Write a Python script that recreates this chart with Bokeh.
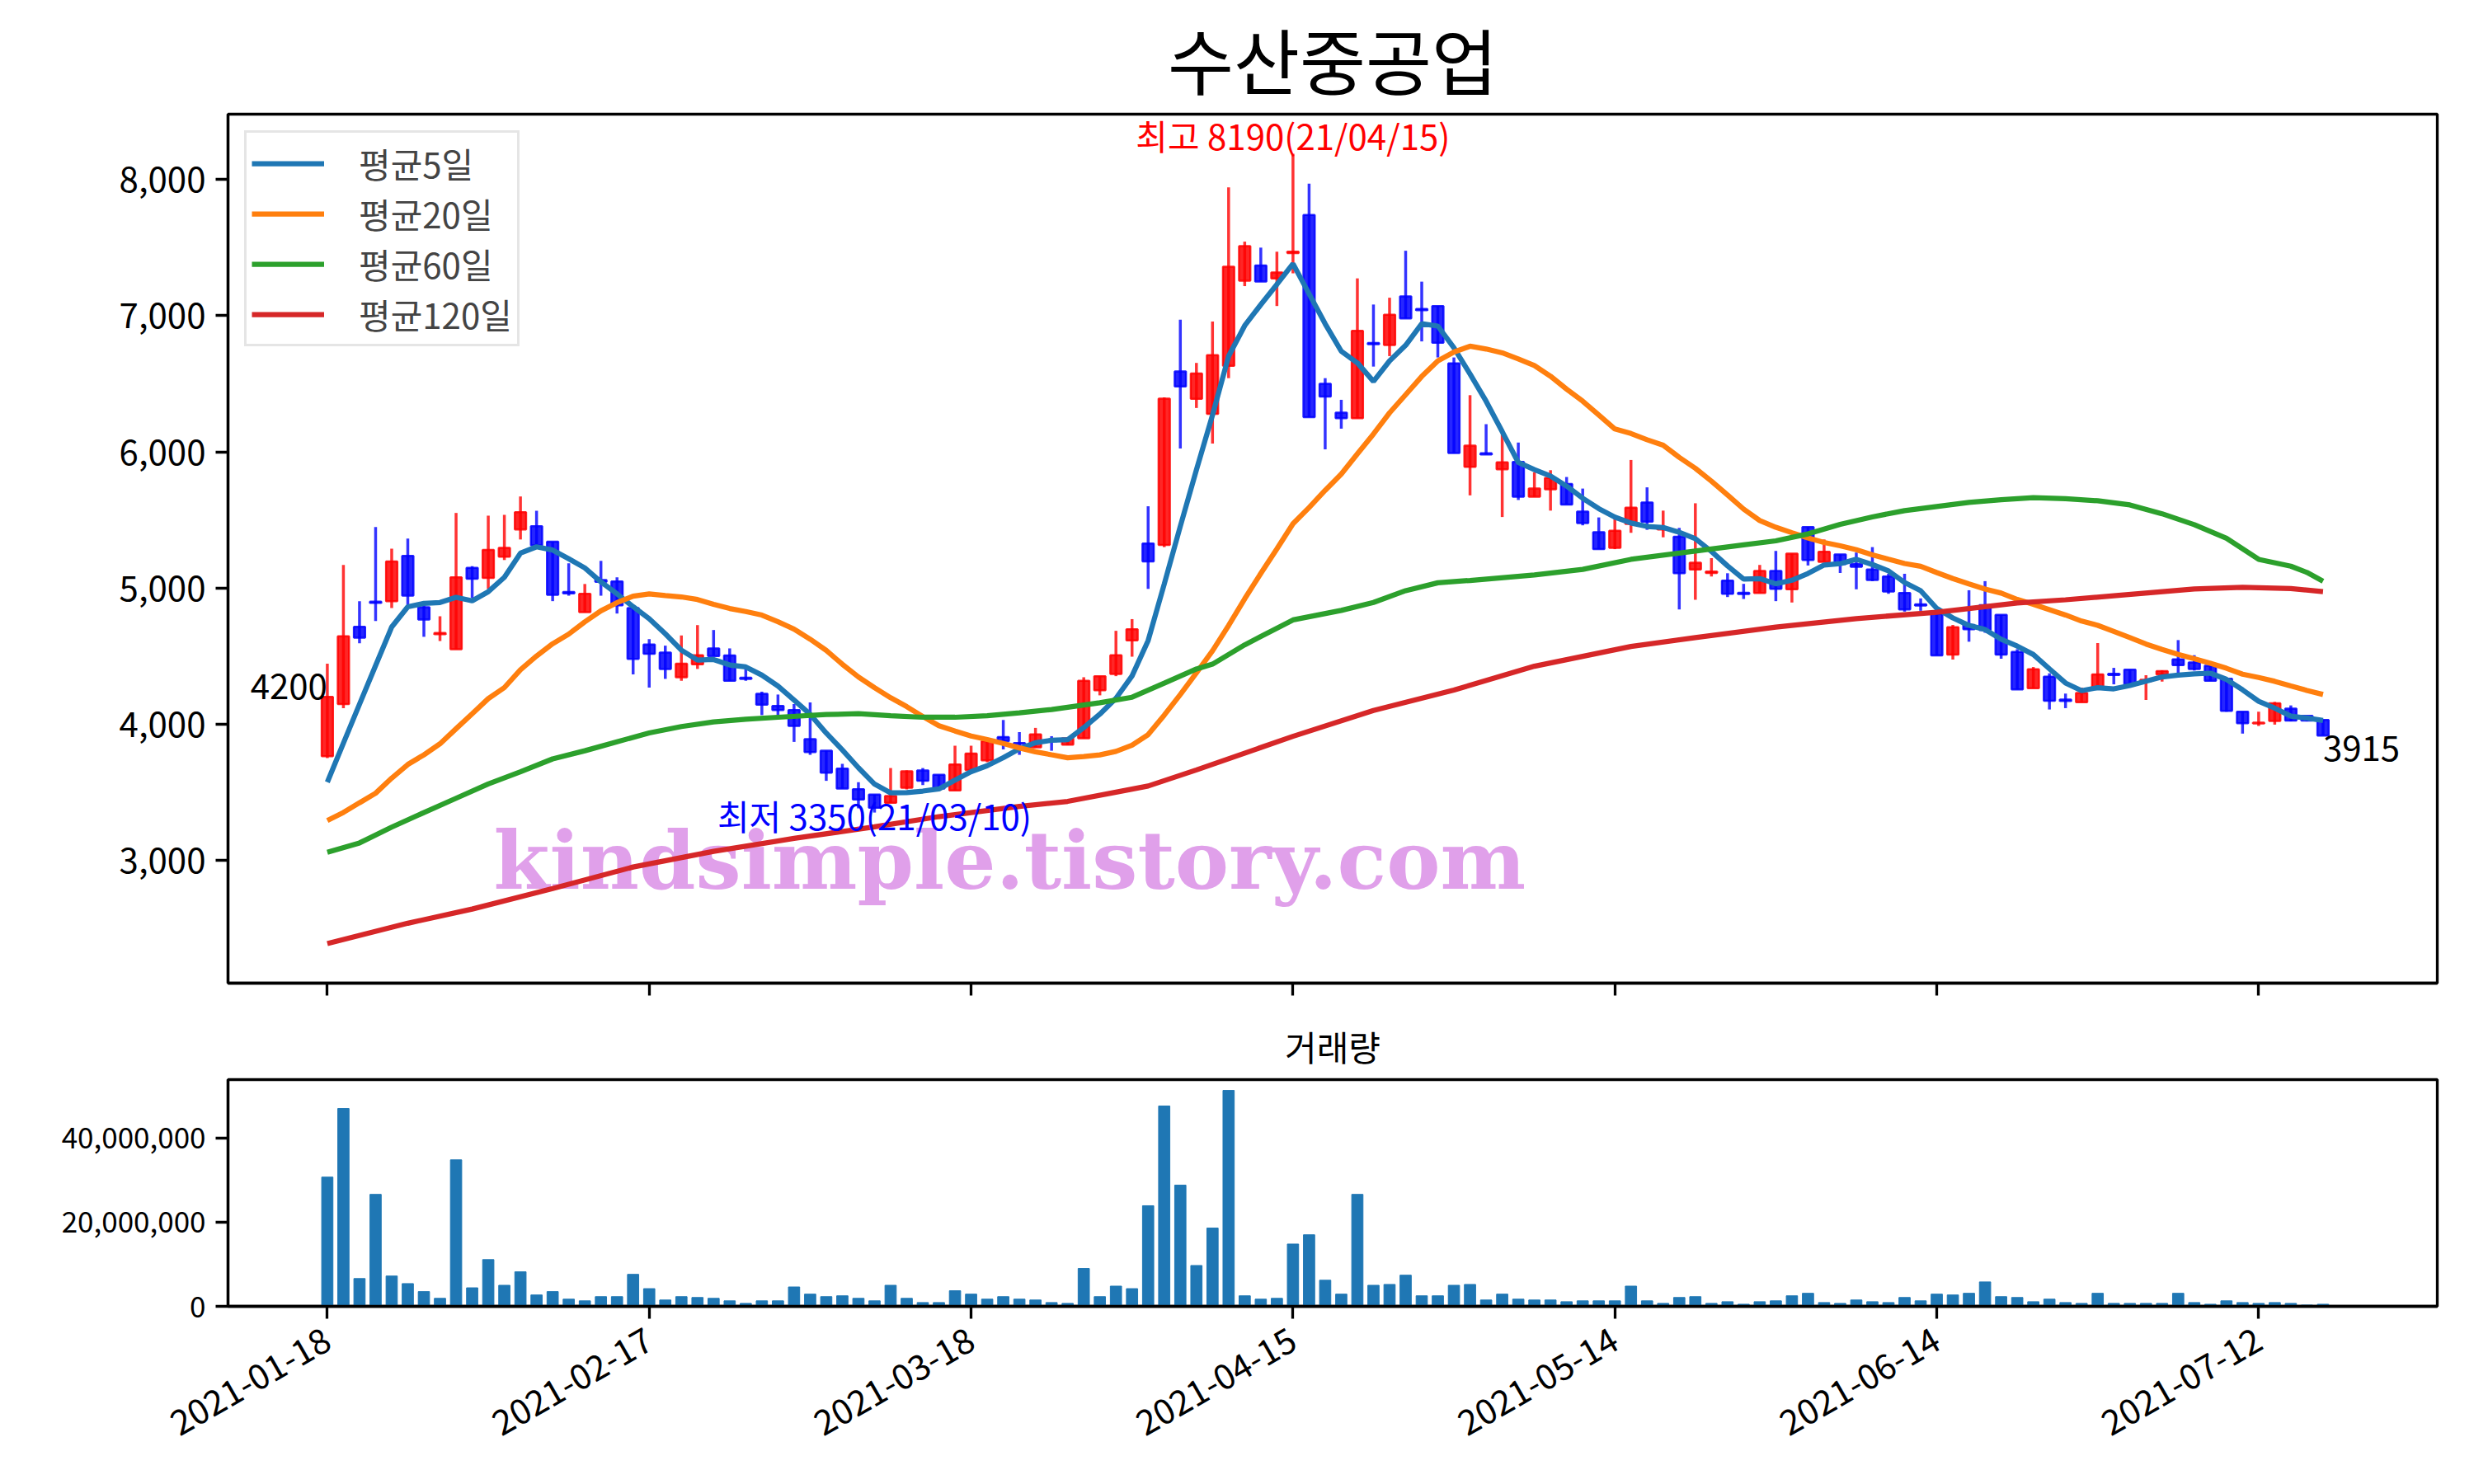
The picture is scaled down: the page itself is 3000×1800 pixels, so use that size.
import numpy as np
import pandas as pd
from math import pi
from bokeh.plotting import figure
from bokeh.models import (ColumnDataSource, Range1d, FixedTicker, NumeralTickFormatter, Label)
from bokeh.layouts import column
from bokeh.embed import file_html
from bokeh.resources import INLINE

chart_title = "수산중공업"
volume_title = "거래량"
tick_idx = [0, 20, 40, 60, 80, 100, 120]
tick_dates = ["2021-01-18", "2021-02-17", "2021-03-18", "2021-04-15",
              "2021-05-14", "2021-06-14", "2021-07-12"]

open_ = [3764, 4147, 4715, 4900, 4903, 5235, 4858, 4660, 4550, 5148,
         5074, 5229, 5430, 5453, 5340, 4970, 4822, 5058, 5048, 4852,
         4584, 4526, 4344, 4439, 4556, 4504, 4340, 4222, 4133, 4103,
         3889, 3804, 3673, 3522, 3482, 3421, 3532, 3659, 3627, 3512,
         3663, 3734, 3905, 3860, 3829, 3885, 3849, 3895, 4248, 4368,
         4614, 5326, 5316, 6590, 6389, 6278, 6632, 7257, 7369, 7274,
         7460, 7740, 6500, 6288, 6247, 6800, 6784, 7142, 7050, 7071,
         6649, 5889, 5990, 5872, 5926, 5670, 5724, 5764, 5561, 5409,
         5295, 5470, 5628, 5430, 5377, 5135, 5110, 5054, 4965, 4963,
         5125, 4990, 5447, 5191, 5246, 5175, 5135, 5084, 4963, 4880,
         4812, 4510, 4728, 4873, 4802, 4530, 4264, 4349, 4180, 4161,
         4258, 4370, 4399, 4315, 4365, 4476, 4453, 4429, 4333, 4091,
         4005, 4022, 4113, 4061, 4030]
high = [4443, 5169, 4903, 5447, 5289, 5362, 4872, 4792, 5551, 5160,
        5531, 5537, 5672, 5567, 5340, 5181, 5029, 5199, 5078, 4852,
        4624, 4576, 4651, 4727, 4691, 4556, 4419, 4238, 4217, 4147,
        4159, 3804, 3708, 3573, 3482, 3677, 3660, 3677, 3627, 3841,
        3841, 3875, 4030, 3941, 3972, 3911, 3900, 4344, 4352, 4685,
        4771, 5600, 6400, 6970, 6653, 6957, 7943, 7544, 7500, 7470,
        8190, 7970, 6541, 6382, 7274, 7082, 7132, 7477, 7250, 7071,
        6693, 6416, 6203, 6129, 6068, 5849, 5865, 5815, 5730, 5518,
        5511, 5940, 5739, 5568, 5441, 5622, 5219, 5108, 5030, 5169,
        5272, 5252, 5447, 5356, 5246, 5260, 5300, 5104, 5104, 4923,
        4832, 4728, 4983, 5050, 4802, 4550, 4419, 4373, 4224, 4268,
        4595, 4413, 4399, 4359, 4395, 4617, 4506, 4429, 4333, 4091,
        4091, 4163, 4137, 4061, 4030]
low = [3750, 4117, 4594, 4757, 4852, 4872, 4641, 4610, 4550, 4927,
       4993, 5205, 5356, 5312, 4903, 4943, 4822, 4943, 4812, 4365,
       4268, 4332, 4318, 4405, 4500, 4318, 4318, 4066, 4066, 3869,
       3774, 3583, 3526, 3381, 3350, 3421, 3520, 3552, 3512, 3512,
       3663, 3720, 3814, 3774, 3829, 3804, 3845, 3895, 4211, 4352,
       4495, 4993, 5300, 6025, 6322, 6061, 6541, 7217, 7251, 7071,
       7311, 6254, 6018, 6170, 6247, 6626, 6703, 6980, 6811, 6693,
       5991, 5680, 5980, 5521, 5646, 5670, 5568, 5612, 5460, 5285,
       5285, 5405, 5427, 5372, 4842, 4913, 5084, 4933, 4919, 4963,
       4903, 4893, 5165, 5191, 5110, 4990, 5050, 4957, 4826, 4832,
       4504, 4474, 4605, 4671, 4480, 4254, 4264, 4107, 4117, 4161,
       4258, 4292, 4294, 4177, 4312, 4373, 4393, 4318, 4091, 3930,
       3986, 3996, 4020, 4020, 3915]
close = [4200, 4645, 4635, 4890, 5195, 4943, 4768, 4670, 5078, 5068,
         5279, 5295, 5557, 5312, 4949, 4960, 4957, 5044, 4872, 4479,
         4516, 4405, 4443, 4506, 4500, 4318, 4332, 4143, 4103, 3986,
         3794, 3643, 3526, 3446, 3385, 3472, 3653, 3583, 3526, 3704,
         3784, 3875, 3875, 3855, 3925, 3875, 3895, 4318, 4352, 4506,
         4697, 5195, 6390, 6480, 6575, 6710, 7359, 7511, 7251, 7318,
         7470, 6254, 6406, 6247, 6889, 6790, 7007, 6980, 7040, 6801,
         5991, 6045, 5980, 5923, 5670, 5730, 5808, 5612, 5477, 5285,
         5420, 5590, 5487, 5440, 5108, 5185, 5120, 4957, 4955, 5125,
         4994, 5252, 5205, 5266, 5175, 5155, 5058, 4973, 4842, 4870,
         4504, 4711, 4697, 4691, 4510, 4254, 4403, 4171, 4170, 4228,
         4365, 4360, 4294, 4325, 4389, 4433, 4405, 4318, 4097, 4006,
         4010, 4153, 4026, 4026, 3915]
volume_m = [30.7, 47.0, 6.6, 26.6, 7.2, 5.4, 3.5, 1.9, 34.8, 4.4,
            11.1, 5.0, 8.2, 2.7, 3.5, 1.7, 1.3, 2.3, 2.3, 7.6,
            4.2, 1.5, 2.3, 2.1, 1.9, 1.3, 0.7, 1.3, 1.3, 4.6,
            2.9, 2.3, 2.5, 1.9, 1.3, 5.0, 1.9, 0.9, 0.9, 3.7,
            2.9, 1.7, 2.3, 1.7, 1.5, 0.9, 0.7, 9.0, 2.3, 4.8,
            4.2, 23.9, 47.6, 28.8, 9.7, 18.6, 51.3, 2.5, 1.7, 1.9,
            14.8, 17.0, 6.2, 2.9, 26.6, 5.0, 5.2, 7.4, 2.5, 2.5,
            5.0, 5.2, 1.5, 2.9, 1.7, 1.5, 1.5, 1.1, 1.3, 1.3,
            1.3, 4.8, 1.3, 0.7, 2.1, 2.3, 0.7, 1.1, 0.5, 1.1,
            1.3, 2.5, 3.1, 0.9, 0.7, 1.5, 1.1, 0.9, 2.1, 1.3,
            2.9, 2.7, 3.1, 5.8, 2.3, 2.1, 1.1, 1.7, 0.9, 0.7,
            3.1, 0.7, 0.7, 0.7, 0.7, 3.1, 0.9, 0.5, 1.3, 0.9,
            0.7, 0.9, 0.7, 0.3, 0.5]

ma5_head = [3573, 3860, 4146, 4430]
ma20_head = [3291, 3351, 3422, 3492, 3603, 3703, 3774, 3855, 3966, 4076,
             4187, 4268, 4399, 4500, 4590, 4661, 4751, 4832, 4892]
ma60_x = [0, 2, 4, 6, 8, 10, 12, 14, 16, 18, 20, 22, 24, 26, 28, 31, 33, 35, 37, 39,
          41, 43, 45, 48, 50, 52, 54, 55, 57, 60, 63, 65, 67, 69, 71, 75, 78, 81, 84, 86,
          88, 90, 92, 94, 96, 98, 100, 102, 104, 106, 108, 110, 112, 114, 116, 118, 120,
          122, 123, 124]
ma60_y = [3058, 3127, 3243, 3350, 3455, 3560, 3650, 3744, 3804, 3870, 3935, 3982, 4016,
          4036, 4050, 4070, 4076, 4062, 4050, 4050, 4062, 4082, 4107, 4157, 4197, 4300,
          4405, 4440, 4582, 4765, 4835, 4893, 4980, 5038, 5055, 5095, 5136, 5210, 5256,
          5286, 5316, 5346, 5397, 5467, 5522, 5568, 5598, 5628, 5648, 5663, 5655, 5640,
          5610, 5545, 5465, 5365, 5210, 5160, 5114, 5050]
ma120_x = [0, 5, 9, 14, 19, 24, 29, 34, 38, 43, 46, 49, 51, 54, 60, 65, 70, 75, 81, 85,
           90, 95, 100, 105, 108, 111, 116, 119, 122, 124]
ma120_y = [2387, 2537, 2641, 2792, 2950, 3065, 3160, 3245, 3320, 3395, 3432, 3500, 3545,
           3663, 3910, 4100, 4250, 4425, 4570, 4635, 4712, 4775, 4822, 4890, 4913, 4943,
           4993, 5004, 4995, 4973]

FONT = "Noto Sans CJK KR"
n = len(close)
idx = np.arange(n)
o = np.array(open_, float); c = np.array(close, float)
h = np.array(high, float); l = np.array(low, float)
vol = np.array(volume_m) * 1e6

ma5 = pd.Series(c).rolling(5).mean().to_numpy()
ma5[:4] = ma5_head
ma20 = pd.Series(c).rolling(20).mean().to_numpy()
ma20[:19] = ma20_head

up = c >= o
cols = np.where(up, "#ff0000", "#0000ff")
src = ColumnDataSource(dict(x=idx, o=o, c=c, h=h, l=l,
                            top=np.maximum(o, c), bot=np.minimum(o, c), col=cols))

xr = Range1d(-6.17, 131.1)
lo = min(l.min(), min(ma60_y), min(ma120_y), np.nanmin(ma5), np.nanmin(ma20))
hi = max(h.max(), max(ma60_y), max(ma120_y))
sp = hi - lo
yr = Range1d(lo - 0.05 * sp, hi + 0.05 * sp)

W = 2992
p1 = figure(width=W, height=1224, x_range=xr, y_range=yr, output_backend="svg",
            toolbar_location=None, min_border_left=276, min_border_right=37,
            min_border_top=138, min_border_bottom=32)
p1.title.text = chart_title
p1.title.align = "center"
p1.title.text_font = FONT
p1.title.text_font_size = "87px"
p1.title.text_font_style = "normal"
p1.title.text_color = "black"
p1.title.standoff = 9

p1.segment(x0="x", y0="l", x1="x", y1="h", source=src, line_color="col",
           line_width=3.5, line_alpha=0.8)
p1.vbar(x="x", top="top", bottom="bot", width=0.7, source=src, fill_color="col",
        fill_alpha=0.85, line_color="col", line_alpha=0.85, line_width=2.5)

lw = 6.25
p1.line(idx, ma5, color="#1f77b4", line_width=lw, legend_label="평균5일")
p1.line(idx, ma20, color="#ff7f0e", line_width=lw, legend_label="평균20일")
p1.line(ma60_x, ma60_y, color="#2ca02c", line_width=lw, legend_label="평균60일")
p1.line(ma120_x, ma120_y, color="#d62728", line_width=lw, legend_label="평균120일")

wm = Label(x=42.4, y=3000, text="kindsimple.tistory.com", text_align="center",
           text_baseline="middle", text_font="DejaVu Serif", text_font_style="bold",
           text_font_size="98px", text_color="#e0a0ea", level="underlay")
p1.add_layout(wm)

imax = int(np.argmax(h)); imin = int(np.argmin(l))
p1.add_layout(Label(x=imax, y=h[imax], text="최고 %d(21/04/15)" % h[imax], text_color="red",
                    text_align="center", text_baseline="bottom", y_offset=-8, text_font=FONT,
                    text_font_size="42px"))
p1.add_layout(Label(x=imin, y=l[imin], text="최저 %d(21/03/10)" % l[imin], text_color="blue",
                    text_align="center", text_baseline="middle", y_offset=-3, text_font=FONT,
                    text_font_size="42px"))
p1.add_layout(Label(x=0, y=c[0], text="%d" % c[0], text_align="right",
                    text_baseline="alphabetic", y_offset=13, text_font=FONT,
                    text_font_size="42px", text_color="black"))
p1.add_layout(Label(x=n - 1, y=c[-1], text="%d" % c[-1], text_align="left",
                    text_baseline="top", text_font=FONT, text_font_size="42px",
                    text_color="black"))

leg = p1.legend[0]
leg.location = "top_left"
leg.margin = 20
leg.padding = 6
leg.spacing = 0
leg.glyph_width = 88
leg.glyph_height = 50
leg.label_height = 50
leg.label_standoff = 42
leg.label_text_font = FONT
leg.label_text_font_size = "42px"
leg.label_text_baseline = "middle"
leg.border_line_color = "#cccccc"
leg.border_line_width = 3
leg.background_fill_alpha = 0.8

p2 = figure(width=W, height=560, x_range=xr, y_range=Range1d(0, vol.max() * 1.05),
            output_backend="svg", toolbar_location=None, min_border_left=276,
            min_border_right=37, min_border_top=85, min_border_bottom=200)
p2.title.text = volume_title
p2.title.align = "center"
p2.title.text_font = FONT
p2.title.text_font_size = "42px"
p2.title.text_font_style = "normal"
p2.title.text_color = "black"
p2.title.standoff = 22
p2.vbar(x=idx, top=vol, width=0.7, color="#1f77b4")

for p in (p1, p2):
    p.grid.visible = False
    p.outline_line_color = "black"
    p.outline_line_width = 3.3
    p.outline_line_alpha = 1
    for ax in p.axis:
        ax.axis_line_width = 3.3
        ax.axis_line_color = "black"
        ax.major_tick_line_width = 3.3
        ax.major_tick_line_color = "black"
        ax.major_tick_out = 15
        ax.major_tick_in = 0
        ax.minor_tick_line_color = None
        ax.major_label_text_font = FONT
        ax.major_label_text_font_size = "42px"
        ax.major_label_text_color = "black"
        ax.major_label_standoff = 12
    p.xaxis.ticker = FixedTicker(ticks=tick_idx)
    p.yaxis.formatter = NumeralTickFormatter(format="0,0")

p1.yaxis.ticker = FixedTicker(ticks=[3000, 4000, 5000, 6000, 7000, 8000])
p2.yaxis.ticker = FixedTicker(ticks=[0, 20000000, 40000000])
p2.yaxis.major_label_text_font_size = "35px"
p1.xaxis.major_label_text_font_size = "0px"
p1.xaxis.major_label_text_color = None
p1.xaxis.major_label_standoff = 0
p2.xaxis.major_label_overrides = {i: d for i, d in zip(tick_idx, tick_dates)}
p2.xaxis.major_label_orientation = pi / 6
p2.xaxis.major_label_standoff = 22

layout = column(p1, p2, spacing=0)
open("out.html", "w").write(file_html(layout, INLINE))
